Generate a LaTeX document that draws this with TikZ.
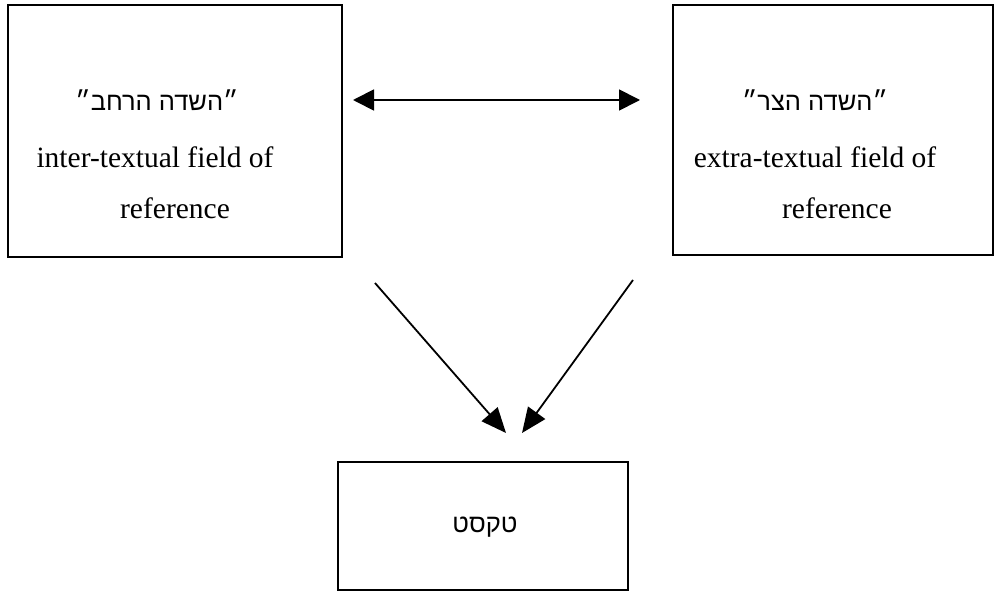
\documentclass[tikz,border=0pt]{standalone}
\usepackage{fontspec}
\setmainfont{Liberation Serif}
\newfontfamily\hebfont[Script=Hebrew]{Liberation Sans}
\TeXXeTstate=1
\usetikzlibrary{arrows.meta, positioning}

\begin{document}
\begin{tikzpicture}[
        x=1pt, y=-1pt,
        % Styles
        fieldbox/.style={rectangle, draw, line width=1.6pt, inner sep=0pt},
        engtext/.style={font=\fontsize{29.5}{34}\selectfont, inner sep=0pt},
        hebtext/.style={font=\hebfont\fontsize{25.5}{30}\selectfont, inner sep=0pt},
        arrow/.style={-{Triangle[length=25pt, width=21pt]}, line width=1.8pt},
        biarrow/.style={{Triangle[length=21pt, width=21pt]}-{Triangle[length=21pt, width=21pt]}, line width=1.8pt},
    ]
        \useasboundingbox (0,0) rectangle (995,593);

        % === BOXES ===
        \node[fieldbox, minimum width=334pt, minimum height=252pt] (wide) at (175,131) {};
        \node[fieldbox, minimum width=320pt, minimum height=250pt] (narrow) at (833,130) {};
        \node[fieldbox, minimum width=290pt, minimum height=128pt] (text) at (483,526) {};

        % === LABELS ===
        \node[hebtext] (widehe) at (157,100) {\beginR ״השדה הרחב״\endR};
        \node[engtext] (wideen) at (155,157) {inter-textual field of};
        \node[engtext] (wideref) at (175,208) {reference};

        \node[hebtext] (narrowhe) at (815,100) {\beginR ״השדה הצר״\endR};
        \node[engtext] (narrowen) at (815,157) {extra-textual field of};
        \node[engtext] (narrowref) at (837,208) {reference};

        \node[hebtext] (texthe) at (485,527) {\beginR טקסט\endR};

        % === CONNECTORS ===
        \coordinate (linkl) at (353,100);
        \coordinate (linkr) at (640,100);
        \draw[biarrow] (linkl) -- (linkr);

        \coordinate (wideout) at (375,283);
        \coordinate (narrowout) at (633,280);
        \coordinate (textinl) at (506,433);
        \coordinate (textinr) at (522,433);
        \draw[arrow] (wideout) -- (textinl);
        \draw[arrow] (narrowout) -- (textinr);

    \end{tikzpicture}
\end{document}
